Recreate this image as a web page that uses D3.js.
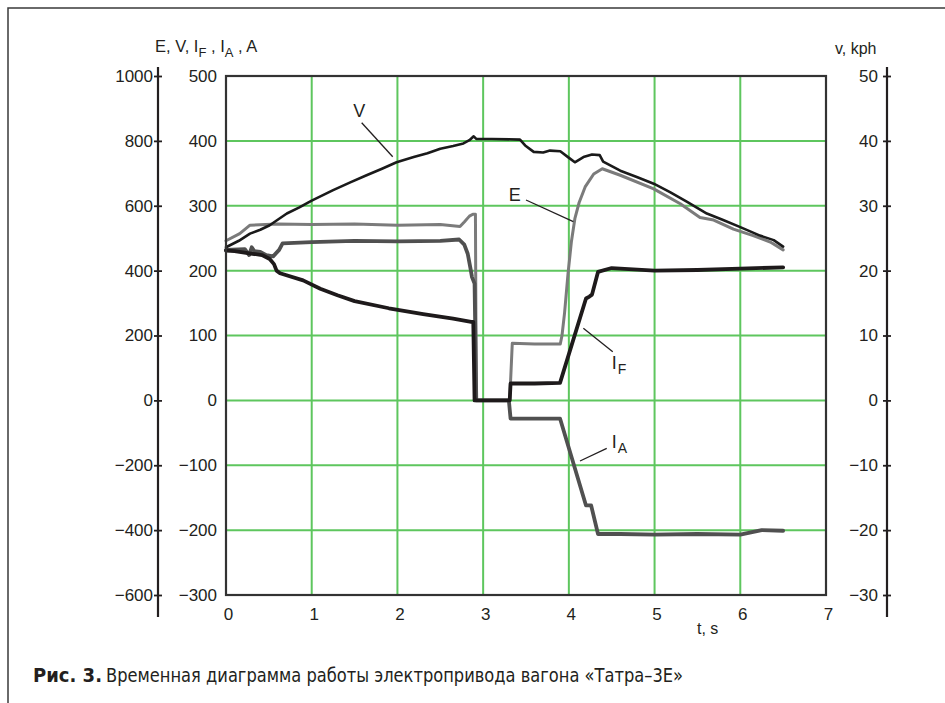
<!DOCTYPE html>
<html><head><meta charset="utf-8">
<script src="https://cdn.jsdelivr.net/npm/d3@7"></script>
<style>body{margin:0;background:#fff} svg{display:block}</style>
</head><body><svg id="c" width="945" height="703"></svg>
<script>
// ---------- DATA ----------
const xTicks = [0, 1, 2, 3, 4, 5, 6, 7];
const voltTicks = [1000, 800, 600, 400, 200, 0, -200, -400, -600];
const ampTicks = [500, 400, 300, 200, 100, 0, -100, -200, -300];
const speedTicks = [50, 40, 30, 20, 10, 0, -10, -20, -30];

// V (outer axis, volts)
const tV = [0, 0.15, 0.28, 0.40, 0.51, 0.62, 0.71, 0.85, 1.0, 1.25, 1.45, 1.64, 1.82, 1.99, 2.19, 2.35, 2.5, 2.65, 2.77, 2.84, 2.89, 2.92, 3.1, 3.43, 3.49, 3.59, 3.70, 3.78, 3.90, 3.99, 4.07, 4.17, 4.27, 4.36, 4.40, 4.6, 4.8, 4.99, 5.18, 5.38, 5.61, 5.8, 6.00, 6.23, 6.39, 6.50];
const vV = [472, 492, 514, 526, 540, 560, 576, 594, 616, 648, 672, 694, 714, 734, 750, 762, 776, 784, 792, 802, 814, 806, 806, 804, 786, 766, 764, 770, 768, 750, 734, 750, 758, 756, 736, 708, 688, 668, 642, 612, 576, 556, 534, 508, 494, 474];

// E (outer axis, volts)
const tE = [0, 0.16, 0.28, 0.6, 1.0, 1.5, 2.0, 2.5, 2.73, 2.78, 2.84, 2.88, 2.91, 2.92, 3.31, 3.34, 3.6, 3.9, 3.92, 3.95, 3.99, 4.03, 4.07, 4.12, 4.19, 4.29, 4.39, 4.60, 4.99, 5.30, 5.53, 5.69, 5.92, 6.15, 6.35, 6.50];
const vE = [492, 514, 540, 544, 542, 544, 540, 542, 536, 550, 568, 574, 574, 0, 0, 176, 174, 174, 200, 270, 390, 490, 560, 610, 658, 698, 714, 694, 652, 606, 564, 556, 528, 508, 488, 464];

// I_F (inner axis, amperes)
const tIF = [0, 0.1, 0.31, 0.42, 0.51, 0.56, 0.59, 0.63, 0.90, 1.1, 1.3, 1.5, 1.9, 2.3, 2.65, 2.86, 2.885, 2.90, 3.31, 3.32, 3.6, 3.897, 4.20, 4.24, 4.27, 4.34, 4.5, 5.0, 5.5, 6.0, 6.5];
const vIF = [231, 230, 226, 224, 218, 210, 200, 196, 185, 172, 162, 153, 142, 133, 126, 121, 121, 0, 0, 26, 26, 27, 157, 160, 163, 198, 204, 200, 201, 203, 205];

// I_A (inner axis, amperes)
const tIA = [0, 0.22, 0.27, 0.30, 0.33, 0.40, 0.47, 0.55, 0.62, 0.66, 1.0, 1.5, 2.0, 2.5, 2.72, 2.78, 2.82, 2.85, 2.87, 2.90, 2.92, 3.30, 3.32, 3.897, 4.20, 4.26, 4.34, 4.6, 5.0, 5.5, 6.0, 6.25, 6.5];
const vIA = [232, 233, 224, 236, 230, 229, 224, 222, 232, 242, 244, 246, 245, 246, 248, 240, 226, 205, 190, 180, 0, 0, -28, -28, -162, -162, -206, -206, -207, -206, -207, -200, -201];

// Annotations in data coordinates (t, amperes on inner axis)
const annLines = [
  [[1.583, 428], [1.945, 375.6]],
  [[3.50, 308.9], [4.052, 275.4]],
  [[4.169, 111.1], [4.512, 75]],
  [[4.13, -93.4], [4.442, -73.9]]
];
const annLabels = [
  {t: 1.485, v: 436.8, main: "V", sub: ""},
  {t: 3.30, v: 307.3, main: "E", sub: ""},
  {t: 4.50, v: 48.4, main: "I", sub: "F"},
  {t: 4.50, v: -73.4, main: "I", sub: "A"}
];

// ---------- DRAW ----------
const svg = d3.select("#c");
const ink = "#231f20";
const FONT = "'Liberation Sans', Arial, Helvetica, sans-serif";

const x = d3.scaleLinear().domain([0, 7]).range([226, 826]);
const yA = d3.scaleLinear().domain([-300, 500]).range([595, 76]);
const yU = d3.scaleLinear().domain([-600, 1000]).range([595, 76]);
const yS = d3.scaleLinear().domain([-30, 50]).range([595, 76]);
const fmt = d => d < 0 ? "\u2212" + Math.abs(d) : String(d);

// outer figure border
svg.append("path").attr("d", "M8,703 L8,8 L945,8")
  .attr("fill", "none").attr("stroke", "#3a3a3a").attr("stroke-width", 1.5);

// grid
const grid = svg.append("g").attr("stroke", "#5ec65e").attr("stroke-width", 2);
grid.selectAll("line.v").data(xTicks.slice(1, -1)).join("line")
  .attr("x1", d => x(d)).attr("x2", d => x(d)).attr("y1", yA(500)).attr("y2", yA(-300));
grid.selectAll("line.h").data(ampTicks.slice(1, -1)).join("line")
  .attr("x1", x(0)).attr("x2", x(7)).attr("y1", d => yA(d)).attr("y2", d => yA(d));

// curves
function series(ts, vs, yscale, color, w) {
  const pts = ts.map((t, i) => [t, vs[i]]);
  svg.append("path").datum(pts)
    .attr("d", d3.line().x(d => x(d[0])).y(d => yscale(d[1])))
    .attr("fill", "none").attr("stroke", color).attr("stroke-width", w)
    .attr("stroke-linejoin", "round").attr("stroke-linecap", "round");
}
series(tE, vE, yU, "#7b7b7b", 3);
series(tIA, vIA, yA, "#505050", 3.8);
series(tIF, vIF, yA, "#1e1a1b", 3.8);
series(tV, vV, yU, "#1a1a1a", 2.6);

// plot frame
svg.append("rect").attr("x", x(0)).attr("y", yA(500))
  .attr("width", x(7) - x(0)).attr("height", yA(-300) - yA(500))
  .attr("fill", "none").attr("stroke", "#333").attr("stroke-width", 2.2);

function styleAxis(g) {
  g.attr("font-family", FONT).attr("font-size", 17);
  g.selectAll("text").attr("fill", ink);
}

// inner left axis (amperes)
const gA = svg.append("g").attr("transform", `translate(${x(0)},0)`)
  .call(d3.axisLeft(yA).tickValues(ampTicks).tickSize(0).tickPadding(9).tickFormat(fmt));
gA.select(".domain").remove();
styleAxis(gA);

// outer left axis (volts)
const gU = svg.append("g").attr("transform", "translate(158,0)")
  .call(d3.axisLeft(yU).tickValues(voltTicks).tickSizeInner(4).tickSizeOuter(0).tickPadding(1).tickFormat(fmt));
gU.select(".domain").remove();
gU.selectAll(".tick line").attr("x1", 4).attr("stroke", ink).attr("stroke-width", 1.8);
gU.append("line").attr("x1", 0).attr("x2", 0).attr("y1", 67).attr("y2", 617)
  .attr("stroke", ink).attr("stroke-width", 2.2);
styleAxis(gU);

// right axis (speed)
const gS = svg.append("g").attr("transform", "translate(887,0)")
  .call(d3.axisLeft(yS).tickValues(speedTicks).tickSizeInner(4).tickSizeOuter(0).tickPadding(5).tickFormat(fmt));
gS.select(".domain").remove();
gS.selectAll(".tick line").attr("x1", 4).attr("stroke", ink).attr("stroke-width", 1.8);
gS.append("line").attr("x1", 0).attr("x2", 0).attr("y1", 67).attr("y2", 617)
  .attr("stroke", ink).attr("stroke-width", 2.2);
styleAxis(gS);

// bottom axis
const gX = svg.append("g").attr("transform", `translate(0,${yA(-300)})`)
  .call(d3.axisBottom(x).tickValues(xTicks).tickSize(0).tickPadding(13).tickFormat(d3.format("d")));
gX.select(".domain").remove();
gX.selectAll("text").attr("dx", 2);
styleAxis(gX);

// axis titles
const tt = svg.append("text").attr("x", 155).attr("y", 52)
  .attr("font-family", FONT).attr("font-size", 16.5).attr("fill", ink);
tt.append("tspan").text("E, V, I");
tt.append("tspan").attr("font-size", 13).attr("dy", 5).text("F");
tt.append("tspan").attr("dy", -5).text(" , I");
tt.append("tspan").attr("font-size", 13).attr("dy", 5).text("A");
tt.append("tspan").attr("dy", -5).text(" , A");

svg.append("text").attr("x", 835).attr("y", 54)
  .attr("font-family", FONT).attr("font-size", 16).attr("fill", ink).text("v, kph");

svg.append("text").attr("x", 697).attr("y", 634)
  .attr("font-family", FONT).attr("font-size", 16).attr("fill", ink).text("t, s");

// annotations
svg.append("g").selectAll("line").data(annLines).join("line")
  .attr("x1", d => x(d[0][0])).attr("y1", d => yA(d[0][1]))
  .attr("x2", d => x(d[1][0])).attr("y2", d => yA(d[1][1]))
  .attr("stroke", ink).attr("stroke-width", 1.3);
annLabels.forEach(a => {
  const t = svg.append("text").attr("x", x(a.t)).attr("y", yA(a.v))
    .attr("font-family", FONT).attr("font-size", 18).attr("fill", ink);
  t.append("tspan").text(a.main);
  if (a.sub) t.append("tspan").attr("font-size", 14).attr("dy", 5.5).attr("dx", 1).text(a.sub);
});

// caption
const CF = "'Liberation Sans Narrow', 'DejaVu Sans Condensed', 'Liberation Sans', sans-serif";
svg.append("text").attr("x", 33).attr("y", 682)
  .attr("font-family", CF).attr("font-size", 20).attr("font-weight", "bold").attr("fill", ink)
  .attr("textLength", 69).attr("lengthAdjust", "spacingAndGlyphs").text("Рис. 3.");
svg.append("text").attr("x", 106).attr("y", 682)
  .attr("font-family", CF).attr("font-size", 20).attr("fill", ink)
  .attr("textLength", 577).attr("lengthAdjust", "spacingAndGlyphs")
  .text("Временная диаграмма работы электропривода вагона «Татра–3Е»");
</script></body></html>
